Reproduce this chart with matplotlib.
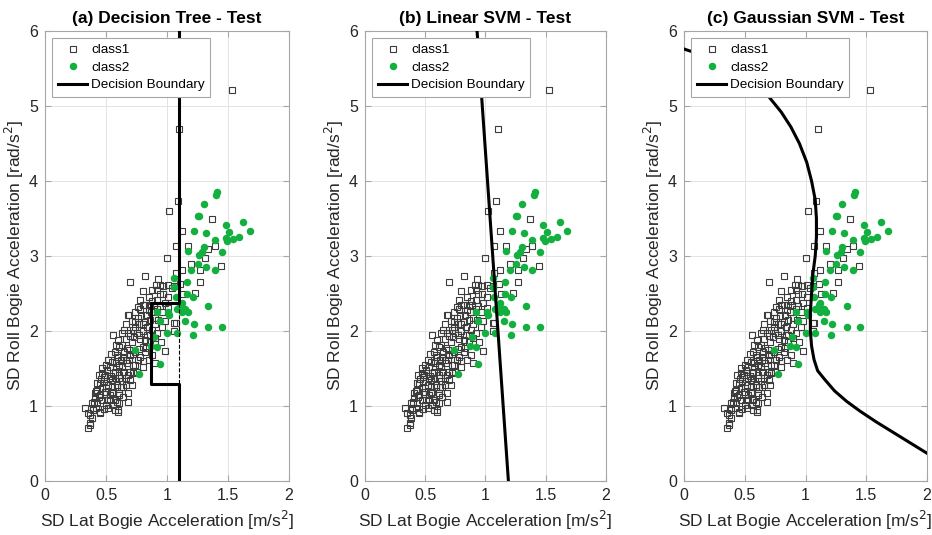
import matplotlib
matplotlib.use('Agg')
import matplotlib.pyplot as plt
from matplotlib.lines import Line2D

plt.rcParams['font.family'] = ['Liberation Sans', 'DejaVu Sans']

# class1 points (open squares)
c1_x = [0.33, 0.35, 0.37, 0.385, 0.35, 0.39, 0.45, 0.43, 0.41, 0.45, 0.47, 0.43, 0.48, 0.50, 0.53,
        0.52, 0.57, 0.60, 0.61, 0.68, 0.57, 0.56, 0.61, 0.64, 0.59, 0.53, 0.49, 0.56, 0.61, 0.66,
        0.71, 0.68, 0.72, 0.47, 0.43, 0.51, 0.385, 0.41, 0.47, 0.53, 0.59, 0.39, 0.60, 0.37, 0.45,
        0.37, 0.45, 0.52, 0.59, 0.66, 0.49, 0.55, 0.61, 0.68, 0.48, 0.55, 0.61, 0.47, 0.51, 0.57,
        0.64, 0.70, 0.55, 0.61, 0.67, 0.74, 0.59, 0.64, 0.70, 0.78, 0.61, 0.67, 0.80, 0.66, 0.71,
        0.78, 0.56, 0.63, 0.68, 0.75, 0.80, 0.66, 0.74, 0.80, 0.71, 0.76, 0.68, 0.74, 0.78, 0.80,
        0.83, 0.69, 0.86, 0.92, 0.96, 1.01, 0.93, 0.98, 0.90, 0.96, 1.07, 0.98, 0.90, 0.70, 0.82,
        0.80, 0.93, 0.94, 1.01, 0.97, 0.92, 1.04, 0.82, 0.89, 0.92, 0.98, 0.91, 0.97, 0.94, 1.01,
        1.06, 1.06, 1.06, 0.84, 0.86, 0.82, 0.85, 0.88, 0.92, 0.86, 0.76, 0.80, 0.72, 0.77, 0.73,
        0.84, 0.88, 0.90, 0.95, 0.52, 0.57, 0.60, 0.63, 0.69, 0.74, 0.65, 0.72, 0.77, 0.58, 0.54,
        0.63, 0.70, 0.44, 0.50, 0.56, 0.64, 0.42, 0.48, 0.62, 0.82, 0.87, 0.94, 0.78, 0.85, 0.88,
        0.46, 0.50, 0.53, 0.58, 0.60, 0.66, 0.72, 0.69, 0.63, 0.70, 0.77, 0.74, 0.79, 0.65, 0.82,
        0.85, 0.88, 0.76, 0.58, 0.54, 0.65, 0.75, 0.80, 0.83, 0.86, 0.90, 0.42, 0.40, 0.55, 0.62,
        0.57, 0.44,
        1.53, 1.10, 1.09, 1.02, 1.12, 1.07, 1.17, 1.00, 1.12, 1.07, 1.37, 1.39, 1.34, 1.31, 1.20,
        1.44, 1.27, 1.27, 1.11, 1.23, 1.13]
c1_y = [0.97, 0.71, 0.78, 0.84, 0.91, 0.95, 0.92, 1.04, 1.18, 1.15, 1.24, 1.31, 1.33, 1.24, 1.15,
        0.98, 0.95, 0.92, 1.04, 1.06, 1.08, 1.19, 1.18, 1.26, 1.28, 1.38, 1.42, 1.44, 1.42, 1.38,
        1.28, 1.42, 1.44, 1.44, 1.22, 1.08, 1.04, 1.11, 1.08, 1.08, 1.06, 0.98, 0.95, 0.88, 0.91,
        0.75, 1.31, 1.28, 1.26, 1.28, 1.19, 1.18, 1.15, 1.18, 1.39, 1.35, 1.38, 1.51, 1.48, 1.46,
        1.46, 1.46, 1.59, 1.55, 1.58, 1.55, 1.68, 1.66, 1.68, 1.66, 1.79, 1.78, 1.79, 1.89, 1.86,
        1.89, 1.95, 1.98, 1.98, 1.98, 2.00, 2.09, 2.06, 2.09, 2.13, 2.18, 2.22, 2.25, 2.29, 2.35,
        2.22, 2.21, 2.35, 2.29, 2.26, 2.31, 2.15, 2.13, 2.09, 2.06, 2.11, 1.74, 1.91, 2.66, 2.74,
        2.54, 2.69, 2.62, 2.62, 2.49, 2.55, 2.58, 2.35, 2.35, 2.42, 2.38, 2.62, 2.60, 2.49, 2.46,
        2.60, 2.11, 2.00, 1.95, 1.85, 1.72, 1.62, 2.02, 1.98, 2.15, 1.62, 1.52, 1.55, 1.76, 1.92,
        2.05, 1.68, 1.58, 1.85, 1.62, 1.72, 1.88, 1.52, 1.62, 1.72, 1.72, 2.02, 2.10, 1.52, 1.40,
        1.34, 1.35, 1.12, 1.02, 1.02, 1.12, 0.97, 0.96, 1.62, 1.88, 2.25, 2.34, 2.42, 2.45, 2.55,
        1.36, 1.55, 1.52, 1.58, 1.65, 1.62, 1.70, 1.75, 1.82, 1.93, 1.95, 2.12, 2.20, 2.02, 2.12,
        2.28, 2.40, 2.32, 1.82, 1.70, 1.45, 1.45, 1.60, 1.78, 1.95, 2.18, 1.20, 1.05, 1.25, 1.25,
        1.38, 1.42,
        5.22, 4.70, 3.73, 3.60, 3.33, 3.13, 3.13, 2.98, 2.82, 2.77, 3.49, 3.13, 3.10, 2.97, 2.90,
        2.87, 2.81, 2.65, 2.63, 2.51, 2.50]

# class2 points (green dots)
c2_x = [1.41, 1.40, 1.30, 1.26, 1.22, 1.32, 1.48, 1.51, 1.62, 1.68, 1.39, 1.48, 1.49, 1.54, 1.59,
        1.45, 1.30, 1.29, 1.26, 1.17, 1.25, 1.32, 1.20, 1.39, 1.06, 1.06, 1.07, 1.21, 1.11, 1.34,
        1.15, 1.17, 1.08, 1.02, 0.92, 1.15, 0.94, 1.22, 1.34, 1.45, 1.21, 1.00, 1.08, 0.89, 1.16,
        1.16, 1.12, 1.01, 1.12, 0.92, 0.87, 0.74, 0.94, 0.77, 1.25]
c2_y = [3.86, 3.81, 3.69, 3.53, 3.33, 3.31, 3.41, 3.32, 3.46, 3.34, 3.21, 3.24, 3.20, 3.23, 3.25,
        3.06, 3.12, 3.05, 3.01, 3.07, 2.89, 2.85, 2.82, 2.81, 2.71, 2.59, 2.46, 2.46, 2.35, 2.33,
        2.29, 2.25, 2.29, 2.22, 2.26, 2.13, 2.13, 2.10, 2.06, 2.05, 1.95, 1.97, 1.97, 1.92, 2.65,
        2.49, 2.38, 2.26, 2.26, 1.79, 1.80, 1.75, 1.56, 1.43, 3.53]

# decision boundaries
tree_x = [1.10, 1.10, 0.87, 0.87, 1.10, 1.10]
tree_y = [6.0, 2.38, 2.38, 1.30, 1.30, 0.0]
tree_dash_x = [1.10, 1.10]
tree_dash_y = [2.38, 1.30]

lin_x = [0.93, 1.19]
lin_y = [6.0, 0.0]

rbf_x = [0.00, 0.15, 0.30, 0.45, 0.58, 0.70, 0.80, 0.88, 0.95, 1.01, 1.05, 1.08, 1.09, 1.09,
         1.08, 1.06, 1.05, 1.04, 1.04, 1.05, 1.07, 1.10, 1.16, 1.24, 1.34, 1.45, 1.58, 1.72,
         1.86, 2.00]
rbf_y = [5.76, 5.68, 5.58, 5.45, 5.30, 5.12, 4.92, 4.72, 4.50, 4.25, 4.00, 3.75, 3.50, 3.25,
         3.00, 2.75, 2.50, 2.25, 2.00, 1.80, 1.62, 1.47, 1.35, 1.20, 1.06, 0.93, 0.79, 0.65,
         0.51, 0.37]

titles = ['(a) Decision Tree - Test', '(b) Linear SVM - Test', '(c) Gaussian SVM - Test']
xticks = [0, 0.5, 1, 1.5, 2]
xtick_labels = ['0', '0.5', '1', '1.5', '2']
yticks = [0, 1, 2, 3, 4, 5, 6]

green = '#13B040'
sq_edge = '#3c3c3c'
axis_gray = '#a6a6a6'
text_gray = '#262626'

fig = plt.figure(figsize=(9.32, 5.35), dpi=100)
lefts = [45, 365, 684]
widths = [244, 241, 243]
axes = [fig.add_axes([l / 932, 54 / 535, w / 932, 450 / 535]) for l, w in zip(lefts, widths)]

for i, ax in enumerate(axes):
    ax.plot(c1_x, c1_y, 's', ms=5.0, mfc='none', mec=sq_edge, mew=0.8, zorder=3)
    ax.plot(c2_x, c2_y, 'o', ms=5.4, mfc=green, mec=green, mew=0, zorder=4)
    if i == 0:
        ax.plot(tree_x, tree_y, '-', color='black', lw=2.2, zorder=5)
        ax.plot(tree_dash_x, tree_dash_y, '--', color='black', lw=0.8, zorder=5)
    elif i == 1:
        ax.plot(lin_x, lin_y, '-', color='black', lw=2.2, zorder=5)
    else:
        ax.plot(rbf_x, rbf_y, '-', color='black', lw=2.2, zorder=5)

    ax.set_xlim(0, 2)
    ax.set_ylim(0, 6)
    ax.set_xticks(xticks)
    ax.set_xticklabels(xtick_labels)
    ax.set_yticks(yticks)
    ax.grid(True, color='#e3e3e3', lw=0.7)
    ax.set_axisbelow(True)
    for s in ax.spines.values():
        s.set_color(axis_gray)
        s.set_linewidth(0.8)
    ax.tick_params(direction='in', length=4, width=0.8, color=axis_gray,
                   labelsize=11.5, labelcolor=text_gray, top=True, right=True, pad=5)
    ax.set_title(titles[i], fontsize=12.5, fontweight='bold', color='black', pad=6)
    ax.set_xlabel('SD Lat Bogie Acceleration [m/s$^2$]', fontsize=12.5, color=text_gray, labelpad=4)
    ax.set_ylabel('SD Roll Bogie Acceleration [rad/s$^2$]', fontsize=12.5, color=text_gray, labelpad=2)

    handles = [
        Line2D([], [], ls='none', marker='s', ms=5.0, mfc='none', mec=sq_edge, mew=0.8),
        Line2D([], [], ls='none', marker='o', ms=5.4, mfc=green, mec=green, mew=0),
        Line2D([], [], color='black', lw=2.2),
    ]
    leg = ax.legend(handles, ['class1', 'class2', 'Decision Boundary'], loc='upper left',
                    fontsize=9.7, fancybox=False, framealpha=1, edgecolor=axis_gray,
                    borderpad=0.4, labelspacing=0.38, handletextpad=0.3, handlelength=2.2,
                    borderaxespad=0.55)
    leg.get_frame().set_linewidth(0.8)
    leg.set_zorder(10)

fig.savefig('out.png', dpi=100)
